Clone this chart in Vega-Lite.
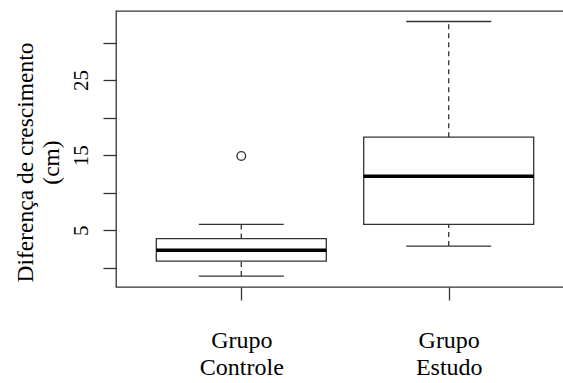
{
  "$schema": "https://vega.github.io/schema/vega-lite/v6.json",
  "autosize": "none",
  "width": 458,
  "height": 276,
  "padding": {"left": 116, "top": 11, "right": 0, "bottom": 96},
  "background": "white",
  "config": {
    "view": {"stroke": "#333333", "strokeWidth": 1.3},
    "font": "Liberation Serif",
    "axis": {
      "grid": false,
      "domain": false,
      "tickColor": "#333333",
      "tickWidth": 1.3,
      "tickSize": 13,
      "labelFont": "Liberation Serif",
      "labelFontSize": 21,
      "labelColor": "black",
      "titleFont": "Liberation Serif",
      "titleFontSize": 23.5,
      "titleFontWeight": "normal",
      "titleColor": "black"
    }
  },
  "datasets": {
    "stats": [
      {"grupo": "Grupo Controle", "pos": 1, "lower": -1.1, "q1": 0.9, "median": 2.35, "q3": 3.9, "upper": 5.8},
      {"grupo": "Grupo Estudo", "pos": 2, "lower": 2.9, "q1": 5.8, "median": 12.2, "q3": 17.4, "upper": 32.8}
    ],
    "outliers": [
      {"grupo": "Grupo Controle", "pos": 1, "value": 14.9}
    ]
  },
  "layer": [
    {
      "data": {"name": "stats"},
      "mark": {"type": "rule", "color": "#333333", "strokeWidth": 1.3, "strokeDash": [5, 4]},
      "encoding": {
        "x": {"field": "pos", "type": "quantitative", "scale": {"domain": [0.42, 2.58], "nice": false, "zero": false},
          "axis": {"values": [1, 2], "title": null, "labelExpr": "datum.value == 1 ? ['Grupo', 'Controle'] : ['Grupo', 'Estudo']", "labelFontSize": 24, "labelLineHeight": 27, "labelPadding": 28, "labelBaseline": "top"}},
        "y": {"field": "q3", "type": "quantitative", "scale": {"domain": [-2.55, 34.2], "nice": false, "zero": false},
          "axis": {"values": [0, 5, 10, 15, 20, 25, 30], "labelExpr": "datum.value % 10 == 5 ? datum.label : ''", "labelAngle": -90, "labelAlign": "center", "labelBaseline": "alphabetic", "labelPadding": 16,
            "title": ["Diferença  de crescimento", "(cm)"], "titleAngle": -90, "titleAlign": "center", "titleBaseline": "alphabetic", "titleX": -84, "titleY": 151, "titleLineHeight": 26}},
        "y2": {"field": "upper"}
      }
    },
    {
      "data": {"name": "stats"},
      "mark": {"type": "rule", "color": "#333333", "strokeWidth": 1.3, "strokeDash": [5, 4]},
      "encoding": {
        "x": {"field": "pos", "type": "quantitative"},
        "y": {"field": "lower", "type": "quantitative"},
        "y2": {"field": "q1"}
      }
    },
    {
      "data": {"name": "stats"},
      "mark": {"type": "bar", "size": 170, "fill": "white", "stroke": "#333333", "strokeWidth": 1.3},
      "encoding": {
        "x": {"field": "pos", "type": "quantitative"},
        "y": {"field": "q1", "type": "quantitative"},
        "y2": {"field": "q3"}
      }
    },
    {
      "data": {"name": "stats"},
      "mark": {"type": "tick", "orient": "horizontal", "size": 170, "thickness": 3.5, "color": "black", "opacity": 1},
      "encoding": {
        "x": {"field": "pos", "type": "quantitative"},
        "y": {"field": "median", "type": "quantitative"}
      }
    },
    {
      "data": {"name": "stats"},
      "mark": {"type": "tick", "orient": "horizontal", "size": 85, "thickness": 1.3, "color": "#333333", "opacity": 1},
      "encoding": {
        "x": {"field": "pos", "type": "quantitative"},
        "y": {"field": "upper", "type": "quantitative"}
      }
    },
    {
      "data": {"name": "stats"},
      "mark": {"type": "tick", "orient": "horizontal", "size": 85, "thickness": 1.3, "color": "#333333", "opacity": 1},
      "encoding": {
        "x": {"field": "pos", "type": "quantitative"},
        "y": {"field": "lower", "type": "quantitative"}
      }
    },
    {
      "data": {"name": "outliers"},
      "mark": {"type": "point", "shape": "circle", "filled": false, "size": 75, "stroke": "#333333", "strokeWidth": 1.4, "opacity": 1},
      "encoding": {
        "x": {"field": "pos", "type": "quantitative"},
        "y": {"field": "value", "type": "quantitative"}
      }
    }
  ]
}
